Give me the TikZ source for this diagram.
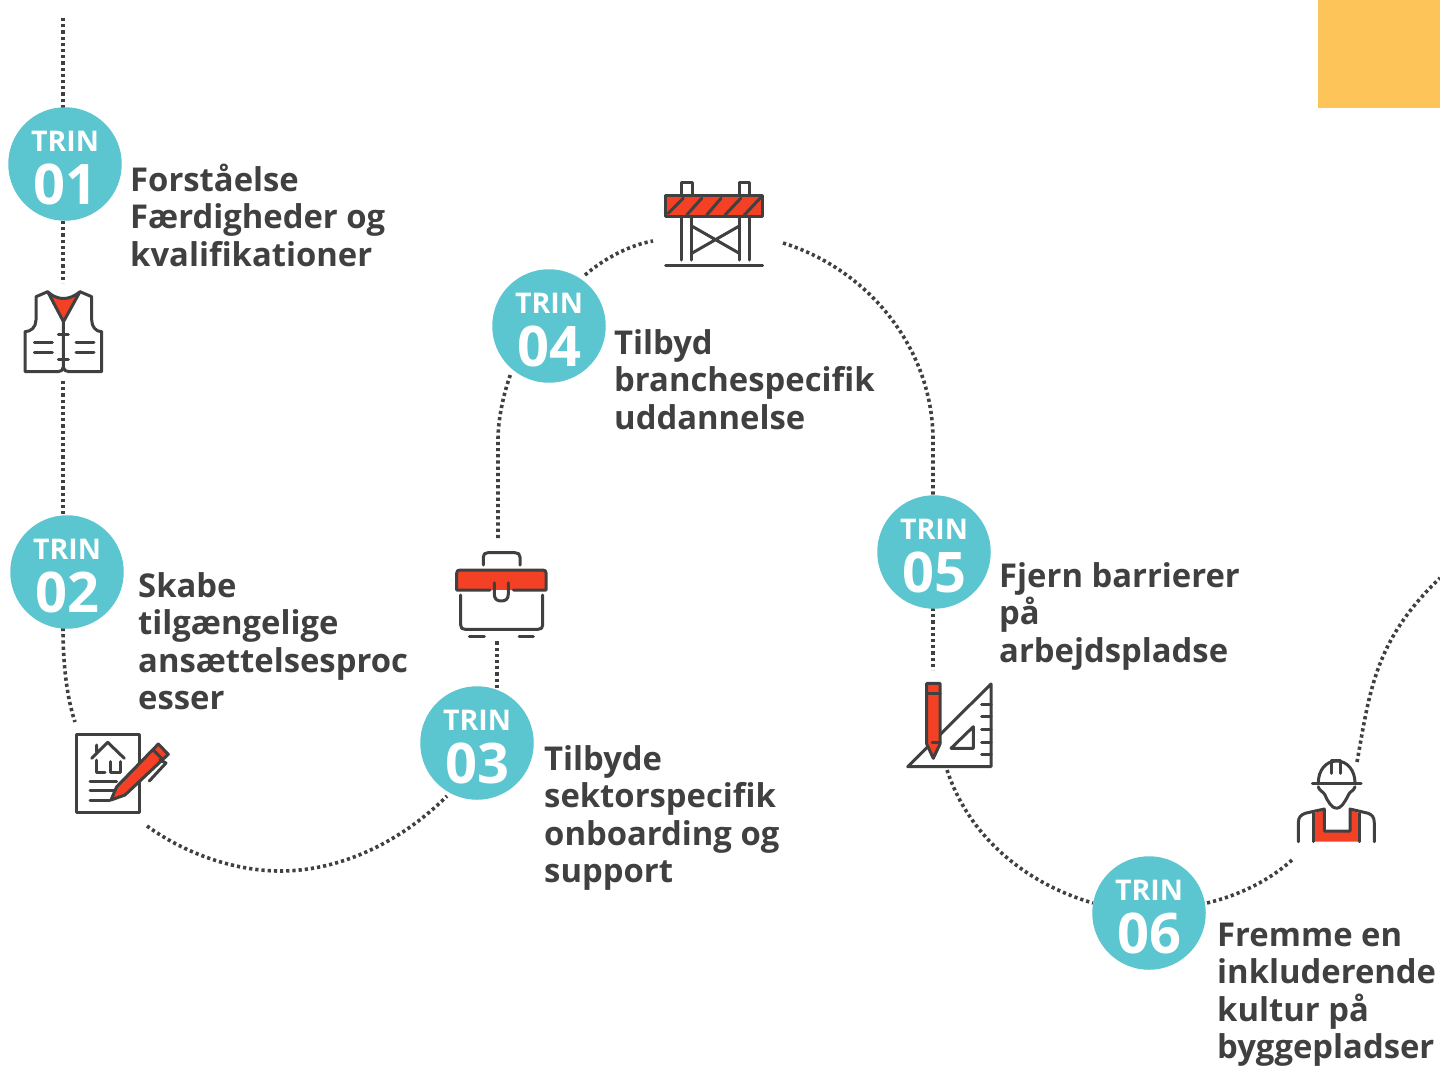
\documentclass[tikz,border=0pt]{standalone}
\usepackage{fontspec}
\setmainfont{Open Sans}
\definecolor{teal1}{HTML}{5BC5D0}
\definecolor{dark1}{HTML}{404040}
\definecolor{red1}{HTML}{F44025}
\definecolor{amber1}{HTML}{FDC45A}
\tikzset{
  trin/.style={circle,fill=teal1,draw=none,text=white,minimum size=113.5pt,inner sep=0pt,align=center,font=\bfseries},
  lab/.style={anchor=north west,inner sep=0pt,align=left,text=dark1,font=\fontsize{32.8}{37.5}\selectfont\bfseries},
  ic/.style={draw=dark1,line width=3pt,line join=round,line cap=round},
  icf/.style={ic,fill=red1},
  link/.style={draw=dark1,line width=3.6pt,dash pattern=on 3.2pt off 3pt}
}
\newcommand{\trinlab}[1]{{\fontsize{28.5}{28.5}\selectfont\rule{0pt}{29pt}TRIN}\\[11pt]{\fontsize{56}{50}\selectfont #1}}
\newcommand{\fl}{\rule{0pt}{30pt}}
\begin{document}
\begin{tikzpicture}[x=1pt,y=-1pt]
\useasboundingbox (0,0) rectangle (1440,1066);
\fill[amber1] (1318,0) rectangle (1440,108);
% named free ends
\coordinate (start) at (63,18);
\coordinate (vestT) at (63,283);
\coordinate (vestB) at (63,381);
\coordinate (docT) at (75,722);
\coordinate (docB) at (147,826);
\coordinate (boxB) at (497,640);
\coordinate (boxT) at (498,538);
\coordinate (barL) at (653,241);
\coordinate (barR) at (783,243);
\coordinate (setT) at (933,670);
\coordinate (setB) at (947,770);
\coordinate (wrkB) at (1292,860);
\coordinate (wrkT) at (1357,762);
\coordinate (stop) at (1440,578);
\coordinate (t1n) at (63,108);\coordinate (t1s) at (63,221);
\coordinate (t2n) at (63,516);\coordinate (t2s) at (63,628);
\coordinate (t3w) at (447,796);\coordinate (t3n) at (497,688);
\coordinate (t4w) at (511,373);\coordinate (t4n) at (585,275);
\coordinate (t5n) at (933,496);\coordinate (t5s) at (933,608);
\coordinate (t6w) at (1093,903);\coordinate (t6e) at (1207,903);
% connectors
\draw[link] (start) -- (t1n);
\draw[link] (t1s) -- (vestT);
\draw[link] (vestB) -- (t2n);
\draw[link] (t2s) .. controls (63,665) and (67,698) .. (docT);
\draw[link] (docB) .. controls (190,857) and (240,871) .. (280,871) .. controls (345,871) and (405,838) .. (t3w);
\draw[link] (t3n) -- (boxB);
\draw[link] (boxT) -- (498,440) .. controls (498,420) and (503,395) .. (t4w);
\draw[link] (t4n) .. controls (605,258) and (630,245) .. (barL);
\draw[link] (barR) .. controls (870,270) and (933,350) .. (933,440) -- (t5n);
\draw[link] (t5s) -- (setT);
\draw[link] (setB) .. controls (970,840) and (1030,885) .. (t6w);
\draw[link] (t6e) .. controls (1240,895) and (1270,880) .. (wrkB);
\draw[link] (wrkT) .. controls (1370,690) and (1375,640) .. (stop);
% step circles
\node[trin] (t1) at (65,164) {\trinlab{01}};
\node[trin] (t2) at (67,572) {\trinlab{02}};
\node[trin] (t3) at (477,743) {\trinlab{03}};
\node[trin] (t4) at (549,326) {\trinlab{04}};
\node[trin] (t5) at (934,552) {\trinlab{05}};
\node[trin] (t6) at (1149,913) {\trinlab{06}};
% labels
\node[lab] (l1) at (130,161) {\fl Forståelse\\Færdigheder og\\kvalifikationer};
\node[lab] (l2) at (138,567) {\fl Skabe\\tilgængelige\\ansættelsesproc\\esser};
\node[lab] (l3) at (544,740) {\fl Tilbyde\\sektorspecifik\\onboarding og\\support};
\node[lab] (l4) at (614,324) {\fl Tilbyd\\branchespecifik\\uddannelse};
\node[lab] (l5) at (999,557) {\fl Fjern barrierer\\på\\arbejdspladse};
\node[lab] (l6) at (1217,916) {\fl Fremme en\\inkluderende\\kultur på\\byggepladser};
% vest
\draw[ic] (47.7,291.7) -- (36,296.7) -- (36,320) .. controls (36,327) and (31,331.7) .. (25,331.7) -- (25,371.7) -- (58,371.7) .. controls (61,371.7) and (63.3,370) .. (63.3,367) -- (63.3,321.7);
\draw[ic] (80,291.7) -- (91.7,296.7) -- (91.7,320) .. controls (91.7,327) and (96,331.7) .. (101.7,331.7) -- (101.7,371.7) -- (69,371.7) .. controls (66,371.7) and (63.3,370) .. (63.3,367);
\draw[icf] (47.7,291.7) .. controls (52,296) and (58,298.5) .. (63.5,298.5) .. controls (69,298.5) and (75,296) .. (80,291.7) -- (63.5,321.7) -- cycle;
\draw[ic] (58.3,334) -- (68.3,334) (58.3,359) -- (68.3,359) (34.3,342.7) -- (52.3,342.7) (34.3,352.3) -- (52.3,352.3) (76,342.7) -- (94,342.7) (76,352.3) -- (94,352.3);
% document and pencil
\draw[ic] (76.7,734.3) rectangle (139,812.7);
\draw[ic] (91.7,758.3) -- (107.7,742.3) -- (124.3,758.3) (96.7,745) -- (96.7,752);
\draw[ic] (96.7,760) -- (96.7,772.7) -- (105,772.7) (110,761.7) -- (110,772.7) -- (120,772.7) -- (120,761.7);
\draw[ic] (90,781.7) -- (116.7,781.7) (90,790.7) -- (115,790.7) (90,800) -- (110,800);
\fill[white] (111,800) -- (116.7,786.7) -- (158.3,744) -- (168.3,754.3) -- (125,795) -- cycle;
\draw[icf] (111,800) -- (116.7,786.7) -- (158.3,744) -- (168.3,754.3) -- (125,795) -- cycle;
\draw[ic] (153.3,750) -- (163.3,760) (160,760) -- (166,763) -- (149.3,781);
% toolbox
\draw[ic] (483.3,565) -- (483.3,557) .. controls (483.3,554) and (485,552.7) .. (488,552.7) -- (515,552.7) .. controls (518,552.7) and (520,554) .. (520,557) -- (520,565);
\fill[red1] (456.7,590) -- (456.7,573) .. controls (456.7,571) and (458,570) .. (460,570) -- (543,570) .. controls (545,570) and (546,571) .. (546,573) -- (546,590) -- cycle;
\draw[ic] (490,590) -- (456.7,590) -- (456.7,573) .. controls (456.7,571) and (458,570) .. (460,570) -- (543,570) .. controls (545,570) and (546,571) .. (546,573) -- (546,590) -- (513.3,590);
\fill[white] (494.3,590) rectangle (508.3,602);
\draw[ic] (494.3,582.7) -- (494.3,594) .. controls (494.3,599) and (497,601) .. (501.3,601) .. controls (505.6,601) and (508.3,599) .. (508.3,594) -- (508.3,582.7);
\draw[ic] (460.7,595) -- (460.7,625) .. controls (460.7,628) and (462,629.3) .. (465,629.3) -- (538,629.3) .. controls (541,629.3) and (542.7,628) .. (542.7,625) -- (542.7,595);
\draw[ic] (469.3,636) -- (484.3,636) (519,636) -- (533.3,636);
% barrier
\draw[ic] (681.7,195) -- (681.7,182.7) -- (692.3,182.7) -- (692.3,195) (739.3,195) -- (739.3,182.7) -- (749.3,182.7) -- (749.3,195);
\draw[icf] (665.7,195.7) rectangle (762.7,216.7);
\draw[ic] (668.3,213.3) -- (683.3,198.3) (686.7,215) -- (701.7,198.3) (706.7,215) -- (721,198.3) (725,215) -- (740.7,198.3) (744.3,215) -- (760,198.3);
\draw[ic] (681.7,216.7) -- (681.7,260) (691.7,216.7) -- (691.7,260) (739.3,216.7) -- (739.3,260) (749.3,216.7) -- (749.3,260);
\draw[ic] (691.7,226) -- (739.3,253.3) (739.3,226) -- (691.7,253.3);
\draw[ic] (665.7,265.3) -- (762.7,265.3);
% set square and pencil
\draw[ic] (991,684) -- (991,766.7) -- (907.7,766.7) -- cycle;
\draw[ic] (981.7,704) -- (991,704) (981.7,716.7) -- (991,716.7) (981.7,729.3) -- (991,729.3) (981.7,742) -- (991,742) (981.7,754.7) -- (991,754.7);
\draw[ic] (973.3,726.7) -- (973.3,748.3) -- (951,748.3) -- cycle;
\draw[icf] (926.7,683.3) -- (940,683.3) -- (940,744) -- (933.3,758.3) -- (926.7,744) -- cycle;
\draw[ic] (926.7,693.3) -- (940,693.3) (932,742) -- (940,742);
% worker
\fill[red1] (1313.3,813.3) -- (1324.3,810) -- (1324.3,831) -- (1350,831) -- (1350,810) -- (1359.3,813) -- (1359.3,841.7) -- (1313.3,841.7) -- cycle;
\draw[ic] (1312.3,783.3) -- (1361,783.3);
\draw[ic] (1318.3,783) .. controls (1318.3,770) and (1326,761) .. (1336.7,761) .. controls (1347,761) and (1355,770) .. (1355,783);
\draw[ic] (1331.7,773.3) -- (1331.7,760) -- (1340.7,760) -- (1340.7,773.3);
\draw[ic] (1318.3,786.7) .. controls (1319,791) and (1323,791) .. (1325,795) .. controls (1328,802) and (1332,808.3) .. (1336.7,808.3) .. controls (1341,808.3) and (1345,802) .. (1348.3,795) .. controls (1350,791) and (1354,791) .. (1355,786.7);
\draw[ic] (1298.3,841.7) -- (1298.3,823) .. controls (1298.3,817) and (1301,815) .. (1305,813.3) -- (1324.3,809) -- (1324.3,831) -- (1350,831) -- (1350,809) -- (1368.3,813.3) .. controls (1372,815) and (1374.3,817) .. (1374.3,823) -- (1374.3,841.7);
\draw[ic] (1313.3,813.3) -- (1313.3,841.7) (1359.3,813.3) -- (1359.3,841.7);
\end{tikzpicture}
\end{document}
